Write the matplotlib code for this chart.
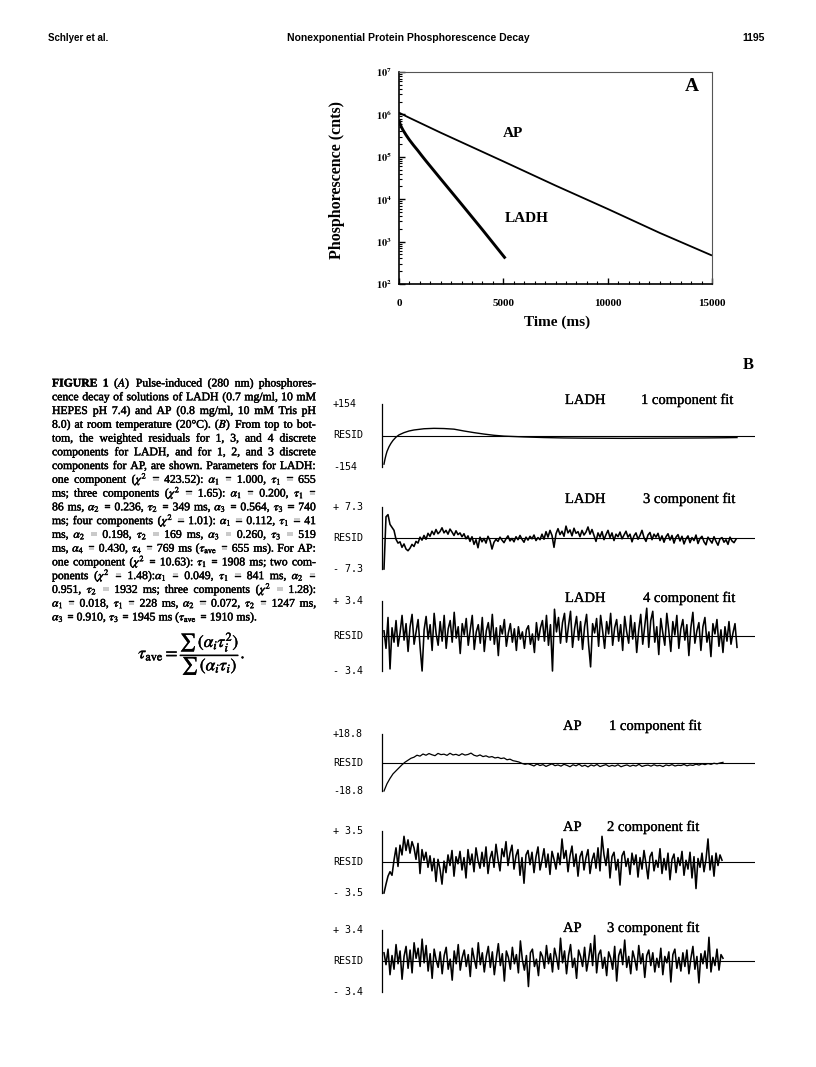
import matplotlib
matplotlib.use("Agg")
import matplotlib.pyplot as plt
import matplotlib.patheffects as pe
from matplotlib import font_manager
from matplotlib.ticker import MultipleLocator, LogLocator, NullFormatter, FixedLocator

# ---------------- data ----------------
# Panel A: phosphorescence decays (counts vs time, ms)
ap_time = [0, 500, 2000, 5000, 7500, 10000, 12500, 15000]
ap_counts = [1.1e6, 8.3e5, 3.7e5, 7.8e4, 2.1e4, 5.9e3, 1.6e3, 4.7e2]
ladh_time = [0, 50, 100, 200, 350, 500, 700, 900, 1100, 1300, 2000, 3000, 4000, 5100]
ladh_counts = [7.4e5, 6.0e5, 5.2e5, 4.2e5, 3.2e5, 2.5e5, 1.86e5, 1.41e5, 1.05e5, 7.9e4,
               3.0e4, 7.6e3, 1.9e3, 4.0e2]
a_yticks = [1e2, 1e3, 1e4, 1e5, 1e6, 1e7]
a_xticks = [0, 5000, 10000, 15000]

# Panel B: weighted residuals
ladh1_channel = [0, 1, 2, 3, 5, 7, 9, 12, 15, 20, 25, 30, 40, 50, 60, 70, 80, 90,
                 100, 110, 120, 140, 160, 180, 200, 240, 280, 320, 340, 353]
ladh1_resid = [-140, -115, -95, -78, -55, -38, -24, -8, 3, 14, 22, 27, 33, 35, 34, 31,
               22, 14, 7, 1, -3, -7, -10, -12, -13, -14, -13, -12, -11, -10]

ladh3_resid = [
    -7.3, 5.0, 5.5, 3.2, 2.5, 1.8, -0.3, -1.2, -0.9, -2.2,
    -1.4, -2.6, -3.0, -2.4, -1.5, -2.0, -0.8, -1.2, 0.2, -0.5,
    0.6, -0.3, 1.1, 0.4, 1.6, 0.8, 2.0, 1.0, 1.5, 2.4,
    1.2, 1.8, 0.9, 2.1, 1.4, 0.6, 1.7, 0.8, 1.2, 0.3,
    1.0, -0.2, 0.5, -0.8, 0.3, -1.5, -0.4, -2.3, 0.2, -0.9,
    -0.1, -1.2, 0.4, -0.6, -2.6, -1.0, -0.3, -0.8, 0.2, -0.5,
    -1.1, -0.2, 0.5, -0.7, -0.1, -0.9, 0.3, -0.4, 0.6, -0.3,
    -1.0, 0.2, -0.5, 0.4, -0.2, 0.7, -0.6, 0.1, -0.4, 0.9,
    -0.3, 1.5, 0.2, 1.8, 0.6, -2.2, 1.0, 2.2, 0.8, 1.6,
    0.4, 2.8, 1.2, 1.9, 0.5, 2.3, 1.1, 1.5, 0.3, 1.8,
    0.7, 1.4, 2.6, 0.9, 2.0, 0.6, -0.8, 1.2, 0.2, 1.5,
    -0.4, 0.8, 1.8, 0.1, 1.2, -0.6, 0.9, 0.3, 1.4, -0.2,
    0.7, 1.6, 0.2, 0.9, -0.9, 0.5, 1.2, -0.3, 0.6, 1.8,
    0.1, -0.8, 0.7, 1.3, -0.4, 0.9, 0.2, 1.1, -0.6, 0.5,
    -1.0, 0.3, 1.0, -0.5, 0.6, -1.2, 0.2, 0.8, -0.7, 0.4,
    -1.4, -0.2, 0.5, -1.1, 0.1, -0.6, 0.7, -1.3, -0.1, 0.4,
    -0.9, -1.6, 0.2, -0.5, -1.2, 0.3, -0.8, -1.7, -0.2, 0.1,
    -1.0, -0.4, -1.5, 0.2, -0.7, -1.1, -0.3]

ladh4_resid = [
    0.5, -1.2, 1.8, -3.2, 0.8, -0.6, 1.5, -1.0, 0.3, 2.0,
    -0.4, 1.2, -1.5, 0.9, 2.1, -0.8, 0.4, 1.6, -1.1, -3.4,
    0.6, 1.9, -0.3, 1.1, -1.4, 2.2, 0.2, -0.9, 1.4, -0.5,
    2.0, -1.2, 0.7, 1.5, -0.6, 2.3, -0.2, 0.9, -1.7, 1.2,
    0.1, 1.7, -0.9, 0.6, 2.0, -1.3, 0.4, 1.1, -0.7, 1.8,
    -1.5, 0.5, 1.3, -0.4, 2.1, -0.8, 0.8, -1.9, 1.0, 0.2,
    1.6, -1.0, 0.3, 1.2, -0.6, 0.7, -1.4, 0.9, -0.3, 0.4,
    -1.2, 0.6, 1.0, -0.8, 0.2, -1.6, 1.3, -0.4, 0.8, 1.5,
    -0.5, 2.0, -0.9, 1.1, -3.4, 2.6, 0.4, 1.8, -0.7, 1.3,
    2.2, -0.6, 1.0, 2.4, -1.1, 0.7, 1.9, -0.4, 1.4, -1.3,
    0.9, 2.1, -0.8, -3.0, 1.2, 0.3, 1.7, -1.0, 2.0, 0.5,
    -1.2, 1.4, 0.2, 2.2, -0.9, 0.8, 1.6, -0.5, 1.1, -1.4,
    1.9, 0.4, -0.7, 2.0, -0.3, 1.3, -1.6, 0.6, 2.1, -0.8,
    1.0, 2.7, -1.1, 1.5, 2.4, -0.6, 0.9, -1.8, 1.7, 0.3,
    -0.9, 2.2, 0.5, -1.5, 1.4, 0.1, 2.0, -1.2, 0.7, 1.6,
    -0.4, 1.1, -1.9, 0.8, 2.3, -0.7, 0.5, 1.3, -1.4, 0.9,
    1.8, -0.6, 0.4, -2.0, 1.2, 0.2, 1.6, -1.0, 0.6, -1.6,
    0.9, -0.5, 1.4, -0.8, 0.3, 1.2, -1.1]

ap1_resid = [
    -18.8, -14.0, -10.5, -7.5, -5.5, -3.5, -1.5, 0.2, 1.5, 2.8, 3.5, 4.8,
    4.2, 5.6, 4.8, 5.9, 5.1, 4.5, 6.0, 5.2, 5.5, 4.7, 6.1, 5.0, 5.4, 4.6, 5.8, 4.9, 5.3, 6.2, 4.8,
    4.2, 5.0, 3.9, 4.4, 3.5, 3.9, 3.0, 3.4, 2.6, 3.0,
    1.8, 2.2, 1.2, 0.8, 0.3, -0.6, -1.2, -0.8,
    -1.5, -2.3, -1.0, -2.0, -1.4, -2.6, -1.7, -0.9, -2.1, -1.6,
    -2.4, -1.2, -1.9, -2.8, -1.5, -2.2, -1.1, -2.5, -1.8, -2.9,
    -1.6, -2.3, -1.3, -2.7, -2.0, -1.4, -2.6, -1.9, -2.4, -1.5,
    -2.8, -2.1, -1.6, -2.5, -1.8, -2.3, -1.2, -2.6, -2.0, -1.7,
    -2.4, -1.5, -2.2, -1.9, -2.7, -1.6, -2.1, -1.4, -2.3, -1.8,
    -2.0, -1.3, -2.2, -1.6, -1.9, -1.1, -1.7, -0.9, -1.4, -0.7,
    -1.2, -0.5, -0.9, -0.3, 0.1]

ap2_resid = [
    -3.5, -2.5, -1.6, -1.1, -1.5, 0.2, 1.6, -0.5, 1.9, 0.8,
    2.9, 1.3, 2.5, 1.0, 2.3, 1.6, 0.3, 2.1, -1.3, 1.4,
    0.2, 1.1, -0.6, 0.7, -1.0, 0.4, -2.2, 0.3, -0.8, -2.5,
    0.1, -1.2, 0.8, -0.4, 1.3, -1.6, 0.6, -0.2, 1.2, -0.9,
    0.5, -1.8, 1.4, -0.3, 0.9, -1.1, 1.6, 0.2, -0.7, 1.1,
    -0.5, 1.7, -1.3, 0.4, 1.2, -0.6, 2.0, 0.3, -1.0, 1.5,
    0.6, 2.3, -0.4, 1.0, 1.9, -0.8, 0.7, 1.4, -1.5, 0.5,
    -2.4, 0.8, 1.3, -0.3, 1.1, -1.2, 0.6, 1.7, -0.9, 0.2,
    1.5, -0.6, 0.9, -1.4, 1.2, 0.3, -0.8, 1.0, -0.3, 2.6,
    0.4, 1.3, -1.1, 0.7, 1.8, -0.5, 0.9, -1.6, 0.6, 1.2,
    -0.9, 0.5, 1.4, -1.3, 0.2, 1.0, -0.7, 1.6, -1.0, 2.9,
    0.8, -0.4, 1.5, -1.8, 0.6, 1.1, -0.9, 0.3, -2.6, 0.7,
    1.2, -0.5, 0.4, -1.4, 1.0, -0.3, 0.8, -1.7, 0.5, -0.8,
    1.3, -0.2, -1.9, 0.6, 1.1, -1.0, 0.2, -0.6, 1.5, -1.3,
    0.4, -0.9, 1.0, -2.0, 0.3, 0.9, -1.2, 0.5, -0.4, 1.2,
    -1.5, 0.2, -0.8, 1.1, -1.8, 0.6, -3.0, 0.4, -0.6, 1.0,
    -1.1, 0.3, 2.6, -0.9, 0.7, -1.6, 1.0, -0.4, 0.8, 0.2]

ap3_resid = [
    0.9, -0.4, 1.3, -1.5, 0.6, -0.9, 1.8, -0.3, 1.1, -2.0,
    0.5, 1.6, -0.8, 1.2, -1.3, 2.0, 0.3, 1.4, -0.6, 2.4,
    -0.2, 1.7, -1.1, 0.8, -1.9, 1.3, 0.1, -0.7, 1.0, -1.4,
    0.6, 1.5, -0.9, 0.2, -2.1, 1.1, -0.3, 1.8, -1.0, 0.4,
    1.2, -0.6, 0.7, -1.7, 1.4, 0.2, -0.8, 2.0, -0.4, 0.9,
    -1.2, 0.5, 1.6, -0.7, 1.0, -1.5, 0.3, 1.9, -0.5, 0.8,
    -2.2, 1.1, 0.4, -0.9, 1.5, -0.3, 0.7, -1.3, 2.2, 0.1,
    -1.0, 0.6, -2.8, 0.9, 1.3, -0.6, 0.2, -1.6, 1.0, 0.5,
    -0.8, 1.7, -0.3, 0.8, -1.2, 1.4, 0.4, -0.9, 2.5, -0.2,
    1.1, -1.4, 0.6, 1.8, -0.7, 0.3, -1.9, 1.2, 0.5, -0.6,
    1.5, -1.1, 0.2, 1.9, -0.5, 2.8, -1.3, 0.7, 1.2, -0.8,
    0.4, -1.6, 1.0, 0.3, -0.9, 1.6, -2.2, 0.6, 1.3, -0.4,
    2.3, -0.7, 0.5, -1.4, 1.1, 0.2, -1.0, 1.7, -0.3, 0.8,
    -1.8, 0.6, 1.2, -0.5, 0.9, -1.2, 0.3, -0.7, 1.4, -1.5,
    0.5, -0.2, 1.0, -2.3, 0.7, 1.3, -0.8, 0.4, -1.1, 0.9,
    -0.6, 1.2, -1.4, 0.3, 1.6, -0.9, 0.5, -2.4, 0.8, -0.3,
    1.1, -0.8, 2.6, -1.2, 0.4, -0.5, 1.3, -1.0, 0.7, 0.3]

resid_names = ["LADH", "LADH", "LADH", "AP", "AP", "AP"]
resid_fits = ["1 component fit", "3 component fit", "4 component fit",
              "1 component fit", "2 component fit", "3 component fit"]
resid_top_labels = ["+154", "+ 7.3", "+ 3.4", "+18.8", "+ 3.5", "+ 3.4"]
resid_bot_labels = ["-154", "- 7.3", "- 3.4", "-18.8", "- 3.5", "- 3.4"]
resid_limits = [154, 7.3, 3.4, 18.8, 3.5, 3.4]

caption_lines = [
    r"FIGURE 1 ($\mathit{A}$) Pulse-induced (280 nm) phosphores-",
    r"cence decay of solutions of LADH (0.7 mg/ml, 10 mM",
    r"HEPES pH 7.4) and AP (0.8 mg/ml, 10 mM Tris pH",
    r"8.0) at room temperature (20°C). ($\mathit{B}$) From top to bot-",
    r"tom, the weighted residuals for 1, 3, and 4 discrete",
    r"components for LADH, and for 1, 2, and 3 discrete",
    r"components for AP, are shown. Parameters for LADH:",
    r"one component ($\chi^2$ = 423.52): $\alpha_1$ = 1.000, $\tau_1$ = 655",
    r"ms; three components ($\chi^2$ = 1.65): $\alpha_1$ = 0.200, $\tau_1$ =",
    r"86 ms, $\alpha_2$ = 0.236, $\tau_2$ = 349 ms, $\alpha_3$ = 0.564, $\tau_3$ = 740",
    r"ms; four components ($\chi^2$ = 1.01): $\alpha_1$ = 0.112, $\tau_1$ = 41",
    r"ms, $\alpha_2$ = 0.198, $\tau_2$ = 169 ms, $\alpha_3$ = 0.260, $\tau_3$ = 519",
    r"ms, $\alpha_4$ = 0.430, $\tau_4$ = 769 ms ($\tau_{\mathrm{ave}}$ = 655 ms). For AP:",
    r"one component ($\chi^2$ = 10.63): $\tau_1$ = 1908 ms; two com-",
    r"ponents ($\chi^2$ = 1.48):$\alpha_1$ = 0.049, $\tau_1$ = 841 ms, $\alpha_2$ =",
    r"0.951, $\tau_2$ = 1932 ms; three components ($\chi^2$ = 1.28):",
    r"$\alpha_1$ = 0.018, $\tau_1$ = 228 ms, $\alpha_2$ = 0.072, $\tau_2$ = 1247 ms,",
    r"$\alpha_3$ = 0.910, $\tau_3$ = 1945 ms ($\tau_{\mathrm{ave}}$ = 1910 ms).",
]

# ---------------- figure ----------------
W, H = 816, 1067
plt.rcParams["mathtext.fontset"] = "stix"
fig = plt.figure(figsize=(W / 100, H / 100), dpi=100)
fig.patch.set_facecolor("white")

SERIF = "Liberation Serif"
MONO = "DejaVu Sans Mono"
INK_CAP = [pe.withStroke(linewidth=0.3, foreground="black")]
INK_TITLE = [pe.withStroke(linewidth=0.2, foreground="black")]
try:
    font_manager.findfont("Liberation Sans Narrow", fallback_to_default=False)
    NARROW = "Liberation Sans Narrow"
    HDR = 8.5
except Exception:
    NARROW = "Liberation Sans"
    HDR = 7.5


def fx(px):
    return px / W


def fy(py):
    return 1 - py / H


def box(l, t, r, b):
    return [fx(l), fy(b), (r - l) / W, (b - t) / H]


# header
fig.text(fx(48), fy(38), "Schlyer et al.", family=NARROW, weight="bold", fontsize=HDR - 0.5, va="center", ha="left")
fig.text(fx(408), fy(38), "Nonexponential Protein Phosphorescence Decay", family=NARROW, weight="bold",
         fontsize=HDR, va="center", ha="center")
fig.text(fx(765), fy(38), "1195", family=NARROW, weight="bold", fontsize=HDR, va="center", ha="right")

# ---------------- panel A ----------------
ax = fig.add_axes(box(399, 72, 712, 284))
ax.set_yscale("log")
ax.plot(ap_time, ap_counts, color="black", lw=1.3, solid_capstyle="butt")
ax.plot(ladh_time, ladh_counts, color="black", lw=2.1, solid_capstyle="butt", solid_joinstyle="round")
ax.set_xlim(0, 15000)
ax.set_ylim(1e2, 1e7)
ax.yaxis.set_major_locator(FixedLocator(a_yticks))
ax.yaxis.set_minor_locator(LogLocator(base=10, subs=[2, 3, 4, 5, 6, 7, 8, 9]))
ax.yaxis.set_minor_formatter(NullFormatter())
ax.set_yticks(a_yticks)
ax.set_yticklabels([r"$\mathbf{10^{%d}}$" % i for i in range(2, 8)], fontsize=7.5)
ax.set_xticks(a_xticks)
ax.set_xticklabels([str(v) for v in a_xticks], family=SERIF, weight="bold", fontsize=8)
ax.xaxis.set_minor_locator(MultipleLocator(500))
ax.tick_params(which="both", direction="in", top=False, right=False)
ax.tick_params(which="major", length=4, width=1.0)
ax.tick_params(which="minor", length=2.5, width=0.8)
ax.tick_params(axis="x", which="major", pad=11)
ax.tick_params(axis="y", which="major", pad=5)
for s in ["left", "bottom"]:
    ax.spines[s].set_linewidth(1.2)
for s in ["top", "right"]:
    ax.spines[s].set_linewidth(0.8)
    ax.spines[s].set_color("#555555")
ax.text(5460, 3.5e5, "AP", family=SERIF, weight="bold", fontsize=11, ha="center", va="center")
ax.text(6130, 3.6e3, "LADH", family=SERIF, weight="bold", fontsize=11, ha="center", va="center")
ax.text(14050, 4.5e6, "A", family=SERIF, weight="bold", fontsize=14, ha="center", va="center")
fig.text(fx(557), fy(322), "Time (ms)", family=SERIF, weight="bold", fontsize=11, ha="center", va="center")
fig.text(fx(337), fy(180), "Phosphorescence (cnts)", family=SERIF, weight="bold", fontsize=11.5,
         ha="center", va="center", rotation=90)

# ---------------- panel B ----------------
fig.text(fx(748), fy(365), "B", family=SERIF, weight="bold", fontsize=12, ha="center", va="center")

panel_tops = [404, 507, 601, 734, 831, 930]
panel_bots = [467, 569, 671, 791, 893, 992]
panel_ends = [737, 736, 737, 723, 722, 723]
title_centers = [399, 498, 597, 725, 826, 927]
name_x = [565, 565, 565, 563, 563, 563]
fit_x = [641, 643, 643, 609, 607, 607]
series = [None, ladh3_resid, ladh4_resid, ap1_resid, ap2_resid, ap3_resid]

AX_L, AX_R, DATA_L = 382, 755, 384
for k in range(6):
    top, bot = panel_tops[k], panel_bots[k]
    lim = resid_limits[k]
    a = fig.add_axes(box(AX_L, top, AX_R, bot))
    a.set_facecolor("none")
    if k == 0:
        xs = ladh1_channel
        ys = ladh1_resid
        scale = (panel_ends[k] - DATA_L) / ladh1_channel[-1]
        lw = 1.0
    else:
        ys = series[k]
        xs = list(range(len(ys)))
        scale = (panel_ends[k] - DATA_L) / (len(ys) - 1)
        lw = 1.15 if k != 3 else 0.9
    a.set_xlim((AX_L - DATA_L) / scale, (AX_R - DATA_L) / scale)
    a.set_ylim(-lim, lim)
    a.axhline(0, color="black", lw=0.8)
    a.plot(xs, ys, color="black", lw=lw, clip_on=False)
    for s in ["top", "right", "bottom"]:
        a.spines[s].set_visible(False)
    a.spines["left"].set_linewidth(0.9)
    a.set_xticks([])
    a.set_yticks([])
    fig.text(fx(333), fy(top), resid_top_labels[k], family=MONO, fontsize=7.2, ha="left", va="center")
    fig.text(fx(333), fy((top + bot) / 2), "RESID", family=MONO, fontsize=7.2, ha="left", va="center")
    fig.text(fx(333), fy(bot), resid_bot_labels[k], family=MONO, fontsize=7.2, ha="left", va="center")
    fig.text(fx(name_x[k]), fy(title_centers[k] + 5), resid_names[k], family=SERIF, fontsize=10.5,
             ha="left", va="baseline", path_effects=INK_TITLE)
    fig.text(fx(fit_x[k]), fy(title_centers[k] + 5), resid_fits[k], family=SERIF, fontsize=10.5,
             ha="left", va="baseline", path_effects=INK_TITLE)

# ---------------- caption (justified) ----------------
renderer = fig.canvas.get_renderer()
CAP_L, CAP_R = 52, 316
AVAIL = CAP_R - CAP_L


def measure(s, size, wt="normal"):
    t = fig.text(0, 0, s, family=SERIF, fontsize=size, weight=wt)
    w = t.get_window_extent(renderer).width
    t.remove()
    return w


def natural(line, k, size):
    toks = line.split(" ")
    sp = measure("a a", size) - measure("aa", size)
    return sum(measure(t, size, "bold" if (k == 0 and j < 2) else "normal") for j, t in enumerate(toks)) \
        + sp * (len(toks) - 1)


BASE = 8.0
nat_plain = [natural(caption_lines[k], k, BASE) for k in (4, 5, 6)]
CAP_FS = BASE * AVAIL / max(nat_plain) * 0.97

for k, line in enumerate(caption_lines):
    tokens = line.split(" ")
    size = CAP_FS
    nw = natural(line, k, size)
    if nw > AVAIL:
        size = size * AVAIL / nw * 0.99
    space_w = measure("a a", size) - measure("aa", size)
    yb = fy(386.5 + 13.76 * k)
    objs = []
    for j, tok in enumerate(tokens):
        wt = "bold" if (k == 0 and j < 2) else "normal"
        objs.append(fig.text(0, yb, tok, family=SERIF, weight=wt, fontsize=size, ha="left", va="baseline",
                             path_effects=INK_CAP))
    widths = [o.get_window_extent(renderer).width for o in objs]
    if k < len(caption_lines) - 1 and len(tokens) > 1:
        gap = (AVAIL - sum(widths)) / (len(tokens) - 1)
    else:
        gap = space_w
    x = CAP_L
    for o, w in zip(objs, widths):
        o.set_x(fx(x))
        x += w + gap

fig.text(fx(192), fy(654),
         r"$\tau_{\mathrm{ave}} = \dfrac{\sum\,(\alpha_i\tau_i^2)}{\sum\,(\alpha_i\tau_i)}.$",
         fontsize=12.5, ha="center", va="center", path_effects=INK_CAP)

fig.savefig("out.png", dpi=100, facecolor="white")
